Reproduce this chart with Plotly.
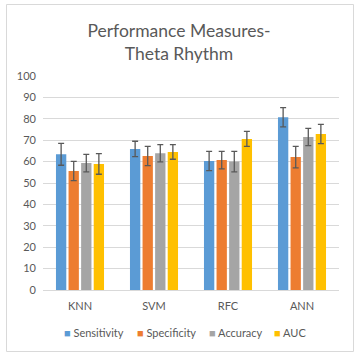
import plotly.graph_objects as go

categories = ["KNN", "SVM", "RFC", "ANN"]
series_names = ["Sensitivity", "Specificity", "Accuracy", "AUC"]
sensitivity = [63.4, 65.9, 60.3, 80.7]
specificity = [55.6, 62.6, 60.7, 62.1]
accuracy = [59.3, 63.9, 60.0, 71.5]
auc = [58.9, 64.5, 70.6, 72.9]
sensitivity_err = [5.1, 3.6, 4.5, 4.5]
specificity_err = [4.5, 4.5, 4.1, 5.0]
accuracy_err = [4.1, 4.0, 4.8, 4.0]
auc_err = [4.8, 3.4, 3.5, 4.5]
y_ticks = [0, 10, 20, 30, 40, 50, 60, 70, 80, 90, 100]

colors = ["#5B9BD5", "#ED7D31", "#A5A5A5", "#FFC000"]
values = [sensitivity, specificity, accuracy, auc]
errors = [sensitivity_err, specificity_err, accuracy_err, auc_err]

FONT = "Lato"
TXT = "#595959"

fig = go.Figure()
for name, vals, errs, col in zip(series_names, values, errors, colors):
    fig.add_trace(go.Bar(
        x=categories, y=vals, name=name, marker_color=col,
        marker_line_width=0, showlegend=False,
        error_y=dict(type="data", array=errs, visible=True,
                     color="#595959", thickness=1.3, width=3),
    ))

W, H = 358, 356
L, R, T, B = 43, 19, 76, 66
pw = W - L - R
ph = H - T - B

def px2x(px):
    return (px - L) / pw

def py2y(py):
    return (H - B - py) / ph

# legend drawn as text: coloured square glyph + series name
legend_x = [62, 135, 207, 272]
annotations = []
for name, col, lx in zip(series_names, colors, legend_x):
    annotations.append(dict(
        text=f'<span style="color:{col}">■</span> {name}',
        xref="paper", yref="paper", x=px2x(lx), y=py2y(332),
        xanchor="left", yanchor="middle", showarrow=False,
        font=dict(family=FONT, size=11, color=TXT),
    ))

fig.update_layout(
    width=W, height=H,
    margin=dict(l=L, r=R, t=T, b=B),
    paper_bgcolor="white", plot_bgcolor="white",
    barmode="group", bargap=0.32, bargroupgap=0.18,
    font=dict(family=FONT, color=TXT, size=11),
    title=dict(text="Performance Measures-<br>Theta Rhythm",
               x=0.5, xref="container", xanchor="center",
               y=1 - 37 / H, yref="container", yanchor="middle",
               font=dict(family=FONT, size=17.5, color=TXT)),
    xaxis=dict(showgrid=False, showline=True, linecolor="#D9D9D9",
               ticks="", ticklabelstandoff=6,
               tickfont=dict(size=11, color=TXT)),
    yaxis=dict(range=[0, 100], tickvals=y_ticks, showgrid=True,
               gridcolor="#D9D9D9", gridwidth=1, zeroline=False,
               showline=False, ticks="", ticklabelstandoff=6,
               tickfont=dict(size=11, color=TXT)),
    showlegend=False,
    annotations=annotations,
    shapes=[dict(type="rect", xref="paper", yref="paper",
                 x0=px2x(6.5), x1=px2x(353.5), y0=py2y(351.5), y1=py2y(4.5),
                 line=dict(color="#D9D9D9", width=1), layer="above")],
)

fig.write_html("out.html", config={"displayModeBar": False},
               post_script="document.body.style.margin='0';document.body.style.overflow='hidden';")
